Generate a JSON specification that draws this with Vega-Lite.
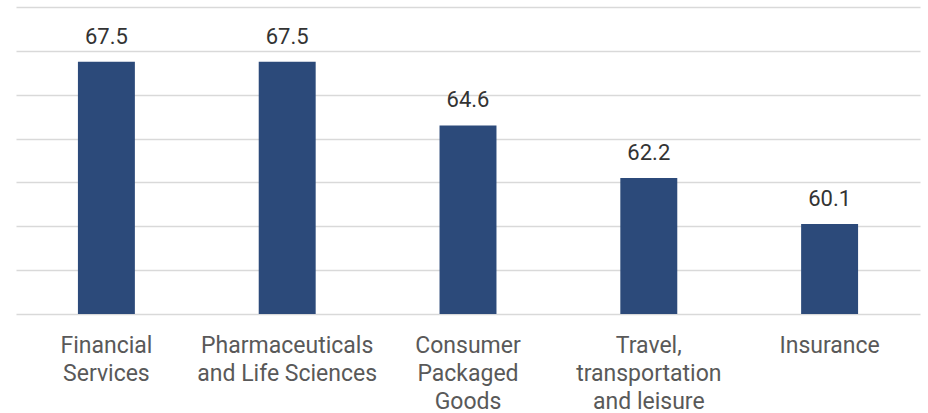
{
  "$schema": "https://vega.github.io/schema/vega-lite/v6.json",
  "width": 904,
  "height": 307,
  "padding": {"left": 16, "top": 7, "right": 8, "bottom": 0},
  "background": "white",
  "data": {
    "values": [
      {"sector": "Financial Services", "score": 67.5},
      {"sector": "Pharmaceuticals and Life Sciences", "score": 67.5},
      {"sector": "Consumer Packaged Goods", "score": 64.6},
      {"sector": "Travel, transportation and leisure", "score": 62.2},
      {"sector": "Insurance", "score": 60.1}
    ]
  },
  "config": {
    "view": {"stroke": null},
    "font": "Roboto"
  },
  "encoding": {
    "x": {
      "field": "sector",
      "type": "nominal",
      "sort": null,
      "title": null,
      "scale": {"paddingInner": 0, "paddingOuter": 0},
      "axis": {
        "labelAngle": 0,
        "ticks": false,
        "domain": false,
        "labelFontSize": 23,
        "labelColor": "#595959",
        "labelPadding": 31,
        "labelLineHeight": 28,
        "labelBaseline": "middle",
        "labelLimit": 0,
        "labelExpr": "datum.value == 'Financial Services' ? ['Financial', 'Services'] : datum.value == 'Pharmaceuticals and Life Sciences' ? ['Pharmaceuticals', 'and Life Sciences'] : datum.value == 'Consumer Packaged Goods' ? ['Consumer', 'Packaged', 'Goods'] : datum.value == 'Travel, transportation and leisure' ? ['Travel,', 'transportation', 'and leisure'] : datum.label"
      }
    },
    "y": {
      "field": "score",
      "type": "quantitative",
      "title": null,
      "scale": {"domain": [56, 70], "zero": false},
      "axis": {
        "values": [56, 58, 60, 62, 64, 66, 68, 70],
        "labels": false,
        "ticks": false,
        "domain": false,
        "gridColor": "#d9d9d9",
        "gridWidth": 1.5
      }
    }
  },
  "layer": [
    {
      "mark": {"type": "bar", "color": "#2c4a7a", "width": {"band": 0.315}},
      "encoding": {"y2": {"datum": 56}}
    },
    {
      "mark": {"type": "text", "baseline": "alphabetic", "dy": -18, "fontSize": 22, "color": "#333333"},
      "encoding": {"text": {"field": "score", "type": "quantitative", "format": ".1f"}}
    }
  ]
}
